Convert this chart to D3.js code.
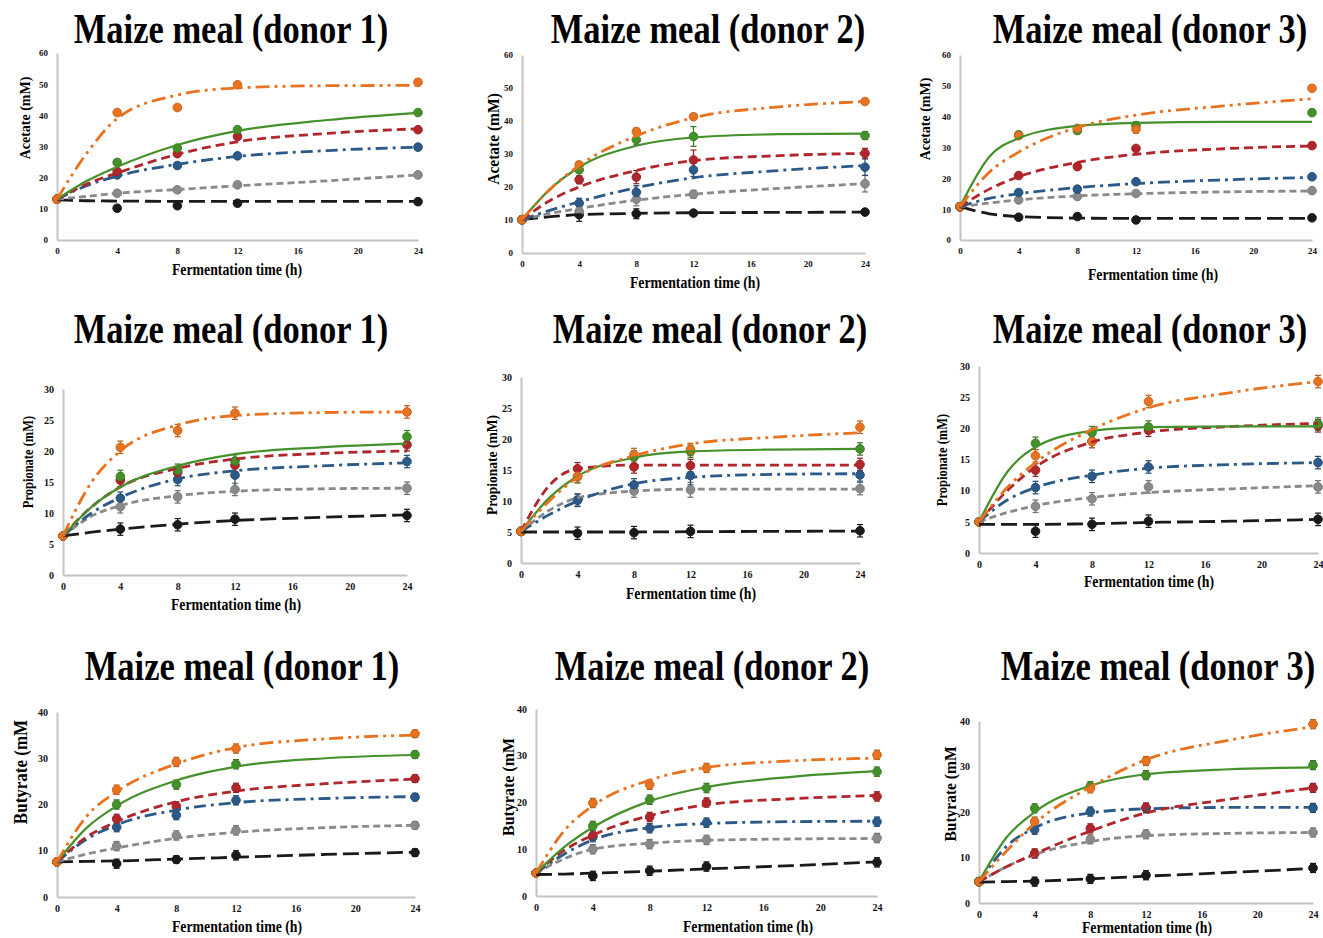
<!DOCTYPE html>
<html>
<head>
<meta charset="utf-8">
<script src="https://cdn.jsdelivr.net/npm/d3@7"></script>
<style>
  body { margin: 0; background: #fff; }
  text { font-family: "Liberation Serif", "Times New Roman", serif; font-weight: bold; }
</style>
</head>
<body>
<div id="chart"></div>
<script>
// sampling times (h) and the times at which the fitted curves were read
const sampleTimes = [0, 4, 8, 12, 24];
const fitTimes = [0, 2, 4, 8, 12, 18, 24];
const xTicks = [0, 4, 8, 12, 16, 20, 24];

// series order: black, gray, blue, red, green, orange
const seriesColors = ["#1a1a1a", "#8a8a8a", "#2b5a88", "#b0262b", "#44902a", "#e8721f"];
const seriesDash = ["16,6", "7,4", "12,5,3,5", "9,5", null, "14,5,3,5,3,5"];

// ---- Acetate ----
const acetateD1Means = [
  [13.1, 10.2, 11.0, 11.8, 12.3],
  [13.1, 15.0, 16.1, 17.7, 20.9],
  [13.1, 20.9, 23.9, 27.0, 29.8],
  [13.1, 22.0, 27.7, 33.2, 35.4],
  [13.1, 24.9, 29.5, 35.4, 40.9],
  [13.1, 40.9, 42.5, 49.8, 50.6]
];
const acetateD1Fits = [
  [12.9, 12.6, 12.5, 12.4, 12.4, 12.4, 12.4],
  [13.1, 14.0, 15.0, 16.2, 17.4, 19.0, 20.9],
  [13.1, 17.5, 20.5, 24.3, 26.8, 28.7, 29.8],
  [13.1, 18.0, 21.5, 27.5, 31.5, 34.2, 35.7],
  [13.1, 19.0, 23.5, 30.5, 35.0, 38.5, 40.8],
  [13.1, 28.0, 39.0, 46.5, 48.8, 49.5, 49.6]
];
const acetateD1Errors = [
  [0.4, 0.6, 0.6, 0.6, 0.6],
  [0.4, 0.6, 0.6, 0.8, 0.6],
  [0.4, 0.6, 0.8, 0.6, 0.6],
  [0.4, 0.6, 0.8, 0.8, 0.6],
  [0.4, 0.8, 0.8, 0.8, 0.6],
  [0.4, 0.8, 0.8, 0.8, 0.8]
];

const acetateD2Means = [
  [10.1, 11.6, 11.9, 12.1, 12.4],
  [10.1, 12.6, 16.3, 17.8, 21.0],
  [10.1, 15.1, 18.4, 25.2, 26.0],
  [10.1, 22.2, 23.0, 28.2, 30.2],
  [10.1, 25.2, 34.3, 35.3, 35.6],
  [10.1, 26.7, 36.8, 41.3, 45.9]
];
const acetateD2Fits = [
  [10.1, 11.0, 11.6, 12.0, 12.2, 12.3, 12.4],
  [10.1, 12.0, 13.5, 16.0, 17.8, 19.6, 21.0],
  [10.1, 13.0, 15.5, 19.8, 22.8, 25.0, 26.5],
  [10.1, 16.0, 20.0, 25.0, 28.0, 29.5, 30.2],
  [10.1, 19.5, 26.0, 32.5, 35.0, 36.0, 36.2],
  [10.1, 19.5, 26.5, 35.5, 41.0, 44.3, 45.9]
];
const acetateD2Errors = [
  [0.5, 2.0, 1.5, 0.6, 0.6],
  [0.5, 1.5, 2.0, 1.2, 2.5],
  [0.5, 1.5, 2.0, 2.0, 2.5],
  [0.5, 1.2, 2.0, 3.0, 1.5],
  [0.5, 2.0, 1.5, 3.0, 1.2],
  [0.5, 1.0, 1.0, 0.8, 0.8]
];

const acetateD3Means = [
  [10.8, 7.4, 7.6, 6.5, 7.2],
  [10.8, 13.0, 14.1, 15.1, 16.0],
  [10.8, 15.4, 16.5, 18.9, 20.5],
  [10.8, 20.9, 23.8, 29.7, 30.6],
  [10.8, 34.1, 35.5, 37.1, 41.3],
  [10.8, 33.8, 36.2, 35.9, 49.2]
];
const acetateD3Fits = [
  [10.8, 8.5, 7.6, 7.1, 7.0, 7.0, 7.0],
  [10.8, 12.0, 13.0, 14.3, 15.0, 15.6, 15.9],
  [10.8, 13.5, 15.0, 17.0, 18.3, 19.5, 20.3],
  [10.8, 16.5, 20.5, 25.2, 27.8, 29.6, 30.5],
  [10.8, 27.0, 33.0, 37.0, 38.0, 38.3, 38.3],
  [10.8, 22.0, 28.5, 36.5, 40.5, 43.5, 45.8]
];
const acetateD3Errors = [
  [0.4, 0.6, 0.6, 0.5, 0.5],
  [0.4, 0.6, 0.6, 0.6, 0.6],
  [0.4, 0.6, 0.6, 0.6, 0.6],
  [0.4, 0.6, 0.8, 0.8, 0.6],
  [0.4, 1.0, 1.0, 1.2, 0.8],
  [0.4, 0.8, 0.8, 1.2, 0.8]
];

// ---- Propionate ----
const propionateD1Means = [
  [6.3, 7.4, 8.1, 9.0, 9.6],
  [6.3, 11.0, 12.6, 13.8, 14.0],
  [6.3, 12.4, 15.4, 16.1, 18.3],
  [6.3, 15.3, 16.5, 17.7, 21.0],
  [6.3, 15.9, 16.9, 18.4, 22.3],
  [6.3, 20.6, 23.3, 26.1, 26.3]
];
const propionateD1Fits = [
  [6.3, 6.9, 7.4, 8.2, 8.8, 9.3, 9.7],
  [6.3, 9.5, 11.2, 12.8, 13.5, 13.9, 14.0],
  [6.3, 10.0, 12.5, 15.5, 16.8, 17.6, 18.1],
  [6.3, 11.0, 14.2, 17.2, 18.7, 19.6, 20.0],
  [6.3, 11.0, 14.2, 17.6, 19.5, 20.6, 21.2],
  [6.3, 15.0, 20.0, 24.2, 25.7, 26.2, 26.3]
];
const propionateD1Errors = [
  [0.5, 1.0, 1.0, 1.0, 1.0],
  [0.5, 1.0, 1.0, 1.0, 1.0],
  [0.5, 1.0, 1.0, 2.0, 1.0],
  [0.5, 1.0, 1.0, 1.0, 1.0],
  [0.5, 1.0, 1.0, 1.0, 1.0],
  [0.5, 1.0, 1.0, 1.0, 1.0]
];

const propionateD2Means = [
  [5.1, 4.8, 4.9, 5.1, 5.2],
  [5.1, 10.2, 11.6, 11.8, 12.0],
  [5.1, 10.1, 12.6, 14.1, 14.2],
  [5.1, 15.2, 15.5, 15.7, 15.9],
  [5.1, 13.9, 17.1, 18.0, 18.4],
  [5.1, 14.0, 17.5, 18.3, 21.9]
];
const propionateD2Fits = [
  [5.0, 5.0, 5.0, 5.0, 5.05, 5.1, 5.15],
  [5.1, 8.5, 10.5, 11.6, 11.9, 11.9, 11.9],
  [5.1, 7.8, 10.0, 12.8, 13.8, 14.3, 14.4],
  [5.1, 12.5, 15.2, 15.8, 15.8, 15.8, 15.8],
  [5.1, 10.5, 14.0, 17.0, 18.0, 18.3, 18.4],
  [5.1, 10.0, 13.8, 17.3, 19.2, 20.3, 21.0]
];
const propionateD2Errors = [
  [0.5, 1.0, 1.0, 1.0, 1.0],
  [0.5, 1.0, 1.0, 1.2, 1.0],
  [0.5, 1.0, 1.0, 1.5, 1.0],
  [0.5, 1.0, 1.0, 1.0, 1.0],
  [0.5, 1.0, 1.0, 1.0, 1.0],
  [0.5, 1.0, 1.0, 1.0, 1.0]
];

const propionateD3Means = [
  [5.0, 3.5, 4.6, 5.1, 5.4],
  [5.0, 7.5, 8.7, 10.6, 10.6],
  [5.0, 10.5, 12.3, 13.8, 14.5],
  [5.0, 13.3, 17.9, 19.7, 20.4],
  [5.0, 17.6, 19.3, 20.2, 20.7],
  [5.0, 15.6, 17.9, 24.3, 27.5]
];
const propionateD3Fits = [
  [4.6, 4.6, 4.6, 4.7, 4.9, 5.1, 5.4],
  [5.0, 6.5, 7.6, 8.9, 9.7, 10.3, 10.8],
  [5.0, 8.5, 10.5, 12.5, 13.6, 14.2, 14.5],
  [5.0, 10.0, 13.8, 17.8, 19.4, 20.3, 20.8],
  [5.0, 13.0, 17.0, 19.6, 20.2, 20.3, 20.3],
  [5.0, 10.5, 14.5, 19.8, 23.3, 25.8, 27.5]
];
const propionateD3Errors = [
  [0.5, 1.0, 1.0, 1.0, 1.0],
  [0.5, 1.0, 1.0, 1.0, 1.0],
  [0.5, 1.0, 1.0, 1.0, 1.0],
  [0.5, 1.0, 1.0, 1.0, 1.0],
  [0.5, 1.0, 1.0, 1.0, 1.0],
  [0.5, 1.0, 1.0, 1.0, 1.0]
];

// ---- Butyrate ----
const butyrateD1Means = [
  [7.6, 7.2, 8.1, 9.0, 9.6],
  [7.6, 11.0, 13.3, 14.4, 15.5],
  [7.6, 15.1, 17.7, 20.9, 21.6],
  [7.6, 16.9, 19.6, 23.6, 25.6],
  [7.6, 20.0, 24.3, 28.7, 30.8],
  [7.6, 23.2, 29.2, 32.1, 35.3]
];
const butyrateD1Fits = [
  [7.6, 7.7, 7.8, 8.2, 8.6, 9.2, 9.7],
  [7.6, 9.3, 10.6, 12.7, 14.0, 15.0, 15.5],
  [7.6, 12.5, 15.6, 18.8, 20.4, 21.3, 21.7],
  [7.6, 13.0, 16.3, 20.6, 22.9, 24.5, 25.5],
  [7.6, 15.0, 19.7, 25.2, 28.2, 30.0, 30.7],
  [7.6, 17.5, 22.8, 28.8, 32.3, 34.2, 35.0]
];
const butyrateD1Errors = [
  [0.5, 1.0, 0.8, 1.0, 0.8],
  [0.5, 1.0, 1.0, 1.0, 0.8],
  [0.5, 1.0, 1.0, 1.0, 0.8],
  [0.5, 1.0, 1.0, 1.0, 0.8],
  [0.5, 1.0, 1.0, 1.0, 0.8],
  [0.5, 1.0, 1.0, 1.0, 0.8]
];

const butyrateD2Means = [
  [4.9, 4.3, 5.4, 6.3, 7.2],
  [4.9, 10.0, 11.1, 12.0, 12.4],
  [4.9, 12.6, 14.5, 15.7, 15.9],
  [4.9, 12.9, 16.9, 20.0, 21.3],
  [4.9, 15.0, 20.6, 23.1, 26.6],
  [4.9, 19.9, 23.8, 27.4, 30.2]
];
const butyrateD2Fits = [
  [4.6, 4.7, 4.9, 5.3, 5.8, 6.5, 7.3],
  [4.9, 8.0, 10.0, 11.3, 11.9, 12.2, 12.3],
  [4.9, 9.0, 12.0, 14.6, 15.5, 15.9, 16.0],
  [4.9, 9.8, 13.0, 17.2, 19.5, 20.8, 21.5],
  [4.9, 10.5, 14.7, 20.3, 23.3, 25.5, 26.7],
  [4.9, 14.0, 19.3, 24.8, 27.5, 28.9, 29.5]
];
const butyrateD2Errors = [
  [0.5, 1.0, 1.0, 1.0, 1.0],
  [0.5, 1.0, 1.0, 1.0, 1.0],
  [0.5, 1.0, 1.0, 1.0, 1.0],
  [0.5, 1.0, 1.0, 1.0, 1.0],
  [0.5, 1.0, 1.0, 1.0, 1.0],
  [0.5, 1.0, 1.0, 1.0, 1.0]
];

const butyrateD3Means = [
  [4.7, 4.7, 5.3, 6.1, 7.7],
  [4.7, 10.8, 14.0, 15.1, 15.5],
  [4.7, 16.1, 20.1, 20.8, 20.9],
  [4.7, 10.9, 16.4, 21.0, 25.3],
  [4.7, 20.8, 25.7, 28.1, 30.3],
  [4.7, 17.9, 25.2, 31.2, 39.3]
];
const butyrateD3Fits = [
  [4.6, 4.7, 4.8, 5.3, 5.9, 6.7, 7.6],
  [4.7, 8.0, 10.6, 13.5, 14.8, 15.3, 15.5],
  [4.7, 12.5, 16.5, 19.8, 20.7, 21.0, 21.0],
  [4.7, 8.0, 10.8, 15.8, 19.8, 22.8, 25.3],
  [4.7, 14.5, 20.0, 25.8, 28.3, 29.4, 29.8],
  [4.7, 11.5, 17.5, 25.5, 31.5, 35.8, 38.7]
];
const butyrateD3Errors = [
  [0.5, 1.0, 1.0, 1.0, 1.0],
  [0.5, 1.0, 1.0, 1.0, 1.0],
  [0.5, 1.0, 1.0, 1.0, 1.0],
  [0.5, 1.0, 1.0, 1.0, 1.0],
  [0.5, 1.0, 1.0, 1.0, 1.0],
  [0.5, 1.0, 1.0, 1.0, 1.0]
];

const panelTitles = ["Maize meal (donor 1)", "Maize meal (donor 2)", "Maize meal (donor 3)"];
const yLabels = ["Acetate (mM)", "Propionate (mM)", "Butyrate (mM"];
const yTickSets = [
  [0, 10, 20, 30, 40, 50, 60],
  [0, 5, 10, 15, 20, 25, 30],
  [0, 10, 20, 30, 40]
];

const panelData = [
  [acetateD1Means, acetateD1Fits, acetateD1Errors],
  [acetateD2Means, acetateD2Fits, acetateD2Errors],
  [acetateD3Means, acetateD3Fits, acetateD3Errors],
  [propionateD1Means, propionateD1Fits, propionateD1Errors],
  [propionateD2Means, propionateD2Fits, propionateD2Errors],
  [propionateD3Means, propionateD3Fits, propionateD3Errors],
  [butyrateD1Means, butyrateD1Fits, butyrateD1Errors],
  [butyrateD2Means, butyrateD2Fits, butyrateD2Errors],
  [butyrateD3Means, butyrateD3Fits, butyrateD3Errors]
];

// layout of each panel in page pixels
// x0/x1 = plot left/right, yb/yt = plot bottom/top, tx/ty = title, lx/ly = y label, ls = y label font, ax/ay = x title
const layout = [
  { x0: 57,  x1: 418,  yb: 240, yt: 53,  tx: 231,  ty: 43,  lx: 25,  ly: 118, ls: 14,   ax: 237,  ay: 275, tf: 9 },
  { x0: 522, x1: 865,  yb: 253, yt: 55,  tx: 708,  ty: 43,  lx: 493, ly: 139, ls: 15.5, ax: 695,  ay: 288, tf: 9 },
  { x0: 960, x1: 1312, yb: 240, yt: 55,  tx: 1150, ty: 43,  lx: 925, ly: 119, ls: 14,   ax: 1153, ay: 280, tf: 9 },
  { x0: 63,  x1: 407,  yb: 575, yt: 389, tx: 231,  ty: 343, lx: 28,  ly: 462, ls: 12.5, ax: 236,  ay: 610, tf: 10 },
  { x0: 521, x1: 860,  yb: 563, yt: 377, tx: 710,  ty: 343, lx: 492, ly: 465, ls: 13.5, ax: 691,  ay: 599, tf: 10 },
  { x0: 979, x1: 1318, yb: 553, yt: 366, tx: 1150, ty: 343, lx: 942, ly: 460, ls: 12.5, ax: 1149, ay: 587, tf: 10 },
  { x0: 57,  x1: 415,  yb: 897, yt: 712, tx: 242,  ty: 680, lx: 20,  ly: 772, ls: 17,   ax: 237,  ay: 932, tf: 10 },
  { x0: 536, x1: 877,  yb: 896, yt: 709, tx: 712,  ty: 680, lx: 508, ly: 787, ls: 16,   ax: 748,  ay: 932, tf: 10 },
  { x0: 979, x1: 1313, yb: 903, yt: 721, tx: 1158, ty: 680, lx: 950, ly: 794, ls: 15.5, ax: 1147, ay: 933, tf: 10 }
];

const svg = d3.select("#chart").append("svg")
  .attr("width", 1323)
  .attr("height", 938);

layout.forEach((L, i) => {
  const row = Math.floor(i / 3), col = i % 3;
  const [means, fits, errors] = panelData[i];
  const yTicks = yTickSets[row];

  const x = d3.scaleLinear().domain([0, 24]).range([L.x0, L.x1]);
  const y = d3.scaleLinear().domain([0, d3.max(yTicks)]).range([L.yb, L.yt]);

  const g = svg.append("g");

  // panel title (glyphs a bit taller than wide, as in the figure)
  g.append("text")
    .attr("transform", `translate(${L.tx},${L.ty}) scale(1,1.2)`)
    .attr("text-anchor", "middle")
    .style("font-size", "34.5px")
    .text(panelTitles[col]);

  // axes
  const yAxis = g.append("g")
    .attr("transform", `translate(${L.x0},0)`)
    .call(d3.axisLeft(y).tickValues(yTicks).tickSize(0).tickSizeOuter(0).tickPadding(9));
  const xAxis = g.append("g")
    .attr("transform", `translate(0,${L.yb})`)
    .call(d3.axisBottom(x).tickValues(xTicks).tickSize(0).tickSizeOuter(0).tickPadding(8));
  [yAxis, xAxis].forEach(a => {
    a.select(".domain").attr("stroke", "#c4c4c4").attr("stroke-width", 2);
    a.selectAll("text")
      .style("font-size", L.tf + "px")
      .style("font-family", '"Liberation Serif", serif')
      .style("font-weight", "bold")
      .attr("fill", "#111");
  });

  // axis titles
  g.append("text")
    .attr("transform", `translate(${L.ax},${L.ay}) scale(1,1.15)`)
    .attr("text-anchor", "middle")
    .style("font-size", "13.8px")
    .text("Fermentation time (h)");

  g.append("text")
    .attr("transform", `translate(${L.lx},${L.ly}) rotate(-90) scale(1,1.1)`)
    .attr("dy", "0.35em")
    .attr("text-anchor", "middle")
    .style("font-size", L.ls + "px")
    .text(yLabels[row]);

  const line = d3.line()
    .x((d, k) => x(fitTimes[k]))
    .y(d => y(d))
    .curve(d3.curveMonotoneX);

  // error bars
  means.forEach((s, si) => {
    const eg = g.append("g").attr("stroke", d3.color(seriesColors[si]).darker(0.6)).attr("stroke-width", 1.2);
    s.forEach((v, k) => {
      const e = errors[si][k];
      const cx = x(sampleTimes[k]);
      eg.append("line").attr("x1", cx).attr("x2", cx).attr("y1", y(v - e)).attr("y2", y(v + e));
      eg.append("line").attr("x1", cx - 3).attr("x2", cx + 3).attr("y1", y(v - e)).attr("y2", y(v - e));
      eg.append("line").attr("x1", cx - 3).attr("x2", cx + 3).attr("y1", y(v + e)).attr("y2", y(v + e));
    });
  });

  // markers
  means.forEach((s, si) => {
    g.append("g").selectAll("circle")
      .data(s)
      .join("circle")
      .attr("cx", (d, k) => x(sampleTimes[k]))
      .attr("cy", d => y(d))
      .attr("r", 4.3)
      .attr("fill", seriesColors[si])
      .attr("stroke", d3.color(seriesColors[si]).darker(0.4))
      .attr("stroke-width", 1);
  });

  // fitted curves
  fits.forEach((s, si) => {
    g.append("path")
      .datum(s)
      .attr("d", line)
      .attr("fill", "none")
      .attr("stroke", seriesColors[si])
      .attr("stroke-width", si === 4 ? 2.2 : 2.8)
      .attr("stroke-dasharray", seriesDash[si]);
  });
});
</script>
</body>
</html>
